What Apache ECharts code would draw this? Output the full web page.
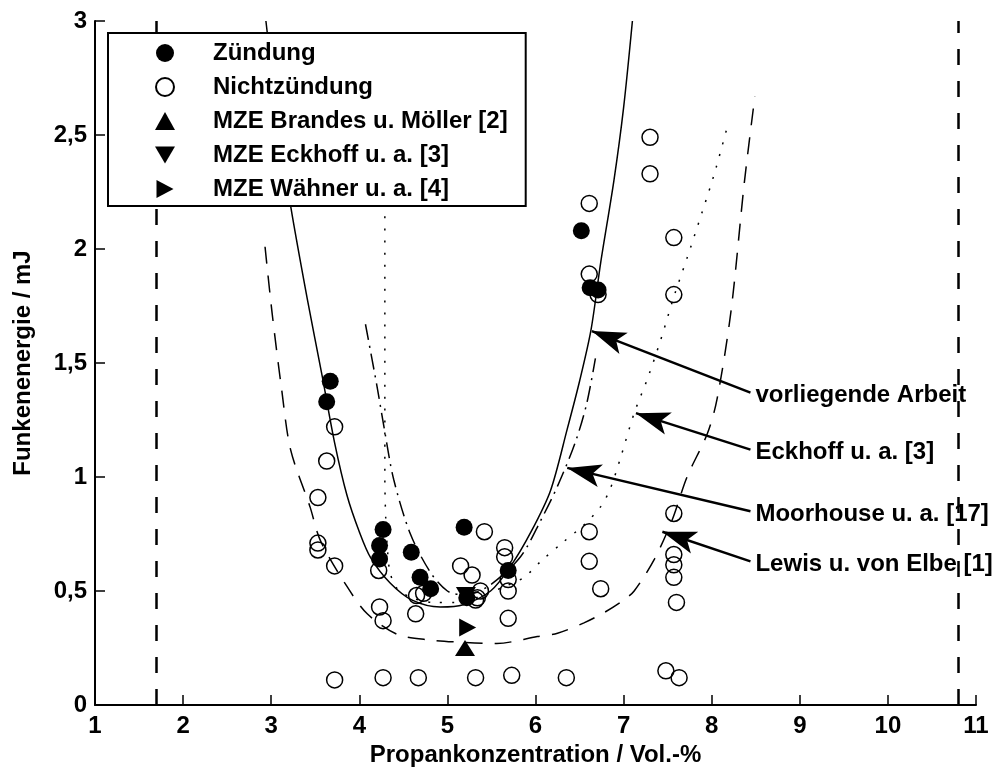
<!DOCTYPE html>
<html><head><meta charset="utf-8">
<script src="https://cdn.jsdelivr.net/npm/echarts@6/dist/echarts.min.js"></script>
<style>html,body{margin:0;padding:0;background:#fff}#chart{width:1003px;height:774px}</style>
</head><body><div id="chart"></div>
<script>
// ---- data (x: Propankonzentration / Vol.-%, y: Funkenenergie / mJ) ----
const zuendung = [[3.67,1.42],[3.63,1.33],[4.27,0.77],[4.23,0.70],[4.23,0.64],[4.59,0.67],[4.69,0.56],[4.81,0.51],[5.19,0.78],[5.22,0.47],[5.69,0.59],[6.52,2.08],[6.62,1.83],[6.71,1.82]];
const nichtZuendung = [[3.72,1.22],[3.63,1.07],[3.53,0.91],[3.53,0.71],[3.53,0.68],[3.72,0.61],[3.72,0.11],
  [4.22,0.59],[4.23,0.43],[4.27,0.37],[4.27,0.12],[4.65,0.48],[4.73,0.49],[4.64,0.40],[4.67,0.12],
  [5.15,0.61],[5.28,0.57],[5.42,0.76],[5.375,0.50],[5.32,0.46],[5.34,0.47],[5.32,0.12],
  [5.65,0.69],[5.65,0.65],[5.69,0.55],[5.69,0.50],[5.69,0.38],[5.73,0.13],[6.35,0.12],
  [6.61,2.20],[6.61,1.89],[6.71,1.80],[6.61,0.76],[6.61,0.63],[6.74,0.51],
  [7.30,2.49],[7.30,2.33],[7.57,2.05],[7.57,1.80],[7.57,0.84],[7.57,0.66],[7.57,0.615],[7.57,0.56],[7.60,0.45],
  [7.48,0.15],[7.63,0.12]];
const mzeBrandes = [[5.20,0.25]];
const mzeEckhoff = [[5.21,0.48]];
const mzeWaehner = [[5.23,0.34]];

const curveArbeit = [[2.94,3.0],[3.08,2.55],[3.22,2.19],[3.41,1.78],[3.58,1.44],[3.72,1.15],[3.86,0.92],[4.0,0.76],[4.13,0.645],[4.35,0.535],[4.6,0.46],[4.92,0.43],[5.18,0.44],[5.49,0.50],[5.72,0.61],[5.95,0.76],[6.17,0.94],[6.36,1.21],[6.5,1.42],[6.63,1.645],[6.74,1.94],[6.89,2.30],[7.0,2.62],[7.10,3.0]];
const curveEckhoff = [[4.29,2.3],[4.29,1.8],[4.29,1.3],[4.29,1.0],[4.30,0.82],[4.32,0.68],[4.35,0.58],[4.43,0.51],[4.6,0.47],[4.85,0.45],[5.1,0.45],[5.4,0.48],[5.65,0.52],[5.87,0.56],[6.06,0.63],[6.3,0.71],[6.55,0.79],[6.74,0.87],[6.85,0.95],[6.97,1.09],[7.12,1.28],[7.27,1.43],[7.42,1.60],[7.57,1.79],[7.72,1.96],[7.89,2.16],[8.03,2.33],[8.18,2.54]];
const curveMoorhouse = [[4.07,1.67],[4.2,1.40],[4.28,1.22],[4.39,0.99],[4.58,0.75],[4.81,0.58],[5.0,0.50],[5.15,0.485],[5.3,0.49],[5.5,0.53],[5.83,0.65],[6.06,0.81],[6.25,0.96],[6.45,1.15],[6.58,1.32],[6.68,1.52]];
const curveLewis = [[2.93,2.01],[3.01,1.72],[3.12,1.38],[3.22,1.12],[3.44,0.87],[3.56,0.72],[3.86,0.52],[4.09,0.40],[4.43,0.31],[4.81,0.285],[5.18,0.275],[5.56,0.27],[6.02,0.30],[6.25,0.315],[6.55,0.36],[6.8,0.41],[7.0,0.46],[7.12,0.50],[7.35,0.64],[7.55,0.81],[7.72,1.0],[7.95,1.19],[8.06,1.34],[8.22,1.73],[8.37,2.29],[8.49,2.67]];

const limitLines = [1.7, 10.8];
const annotationLabels = ['vorliegende Arbeit','Eckhoff u. a. [3]','Moorhouse u. a. [17]','Lewis u. von Elbe [1]'];
const arrowTails = [[8.44,1.37],[8.44,1.12],[8.44,0.85],[8.44,0.63]];
const arrowTips = [[6.64,1.64],[7.14,1.28],[6.36,1.04],[7.44,0.76]];
const yTickLabels = ['0','0,5','1','1,5','2','2,5','3'];
const xTickLabels = ['1','2','3','4','5','6','7','8','9','10','11'];

// ---- chart ----
const FONT = "'Liberation Sans', Arial, sans-serif";
const txt = {fontFamily: FONT, fontSize: 24, fontWeight: 'bold', color: '#000'};
const chart = echarts.init(document.getElementById('chart'), null, {renderer: 'canvas'});

function curve(name, data, type) {
  return {name, type: 'line', data, showSymbol: false, symbol: 'none', smooth: 0.3, silent: true, z: 2,
    lineStyle: {color: '#000', width: 1.5, type}, emphasis: {disabled: true}};
}
function pts(name, data, symbol, size, filled, z) {
  return {name, type: 'scatter', data, symbol, symbolSize: size, silent: true, z,
    itemStyle: filled ? {color: '#000', opacity: 1} : {color: 'rgba(0,0,0,0)', borderColor: '#000', borderWidth: 1.5, opacity: 1},
    emphasis: {disabled: true}};
}
const downTri = 'path://M0,0 L20,0 L10,17 Z';
const rightTri = 'path://M0,0 L17,9 L0,18 Z';
// notched arrow head, tip at top, square bounding box
const arrowHead = 'path://M0,0 M34,34 M17,0 L28.5,34 L17,26 L5.5,34 Z';

chart.setOption({
  animation: false,
  backgroundColor: '#fff',
  grid: {left: 95, right: 27, top: 21, bottom: 69},
  xAxis: {type: 'value', min: 1, max: 11, interval: 1,
    name: 'Propankonzentration / Vol.-%', nameLocation: 'middle', nameGap: 36, nameTextStyle: txt,
    axisLine: {show: true, lineStyle: {color: '#000', width: 2}},
    axisTick: {show: true, inside: true, length: 10, lineStyle: {color: '#000', width: 1.5}},
    axisLabel: Object.assign({margin: 9, formatter: v => xTickLabels[Math.round(v - 1)]}, txt),
    splitLine: {show: false}},
  yAxis: {type: 'value', min: 0, max: 3, interval: 0.5,
    name: 'Funkenenergie / mJ', nameLocation: 'middle', nameGap: 60, nameTextStyle: txt,
    axisLine: {show: true, lineStyle: {color: '#000', width: 2}},
    axisTick: {show: true, inside: true, length: 10, lineStyle: {color: '#000', width: 1.5}},
    axisLabel: Object.assign({margin: 8, formatter: v => yTickLabels[Math.round(v / 0.5)]}, txt),
    splitLine: {show: false}},
  legend: {
    orient: 'vertical', left: 108, top: 33, z: 20,
    itemWidth: 20, itemHeight: 18, itemGap: 10,
    padding: [8, 18, 5, 47],
    borderColor: '#000', borderWidth: 2, backgroundColor: '#fff',
    selectedMode: false,
    textStyle: Object.assign({padding: [0, 0, 0, 33]}, txt),
    data: [
      {name: 'Zündung', icon: 'circle'},
      {name: 'Nichtzündung', icon: 'circle'},
      {name: 'MZE Brandes u. Möller [2]', icon: 'triangle'},
      {name: 'MZE Eckhoff u. a. [3]', icon: downTri},
      {name: 'MZE Wähner u. a. [4]', icon: rightTri}
    ]
  },
  series: [
    {name: 'limits', type: 'line', data: [], silent: true, z: 1,
      markLine: {silent: true, z: 1, symbol: ['none', 'none'], label: {show: false},
        lineStyle: {color: '#000', width: 2.5, type: [16, 16]}, emphasis: {disabled: true},
        data: limitLines.map(v => ({xAxis: v}))}},
    curve('vorliegende Arbeit', curveArbeit, 'solid'),
    curve('Eckhoff u. a. [3]', curveEckhoff, [2, 10]),
    curve('Moorhouse u. a. [17]', curveMoorhouse, [16, 6, 2, 6]),
    curve('Lewis u. von Elbe [1]', curveLewis, [17, 12]),
    pts('Nichtzündung', nichtZuendung, 'circle', 16, false, 3),
    pts('Zündung', zuendung, 'circle', 17, true, 4),
    pts('MZE Brandes u. Möller [2]', mzeBrandes, 'triangle', [20, 16], true, 5),
    pts('MZE Eckhoff u. a. [3]', mzeEckhoff, downTri, [20, 17], true, 5),
    pts('MZE Wähner u. a. [4]', mzeWaehner, rightTri, [17, 18], true, 5),
    {name: 'annotations', type: 'scatter', symbolSize: 0, silent: true, z: 6,
      itemStyle: {opacity: 1, color: '#000'},
      data: arrowTails.map((p, i) => ({value: p, name: annotationLabels[i]})),
      label: Object.assign({show: true, position: 'right', distance: 5, offset: [0, 3], formatter: '{b}', opacity: 1}, txt),
      emphasis: {disabled: true},
      markLine: {silent: true, z: 6, symbol: ['none', arrowHead], symbolSize: 34, symbolOffset: [[0, 0], [0, 17]],
        label: {show: false}, emphasis: {disabled: true},
        lineStyle: {color: '#000', width: 2.5, type: 'solid', opacity: 1},
        data: arrowTails.map((p, i) => [{coord: p}, {coord: arrowTips[i]}])}}
  ]
});
</script>
</body></html>
